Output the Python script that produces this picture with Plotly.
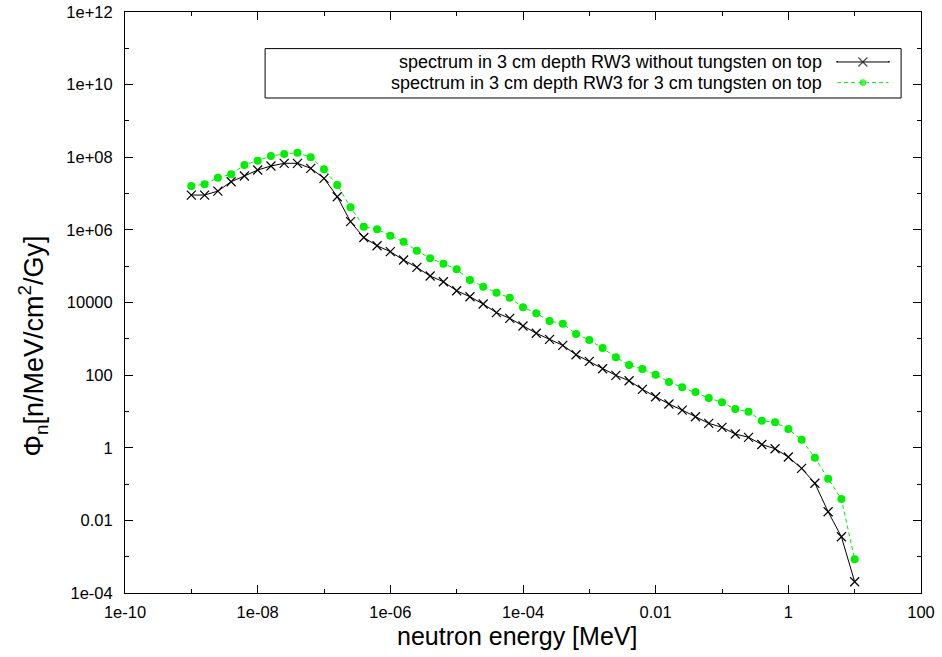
import plotly.graph_objects as go

# ---------------- data ----------------
energy_MeV = [
    1.000e-9, 1.585e-9, 2.512e-9, 3.981e-9, 6.310e-9,
    1.000e-8, 1.585e-8, 2.512e-8, 3.981e-8, 6.310e-8,
    1.000e-7, 1.585e-7, 2.512e-7, 3.981e-7, 6.310e-7,
    1.000e-6, 1.585e-6, 2.512e-6, 3.981e-6, 6.310e-6,
    1.000e-5, 1.585e-5, 2.512e-5, 3.981e-5, 6.310e-5,
    1.000e-4, 1.585e-4, 2.512e-4, 3.981e-4, 6.310e-4,
    1.000e-3, 1.585e-3, 2.512e-3, 3.981e-3, 6.310e-3,
    1.000e-2, 1.585e-2, 2.512e-2, 3.981e-2, 6.310e-2,
    1.000e-1, 1.585e-1, 2.512e-1, 3.981e-1, 6.310e-1,
    1.000e0, 1.585e0, 2.512e0, 3.981e0, 6.310e0,
    1.000e1,
]

phi_without_tungsten = [
    9.1e6, 9.1e6, 1.17e7, 2.12e7, 3.04e7,
    4.45e7, 5.74e7, 6.81e7, 6.81e7, 4.96e7,
    2.63e7, 8.19e6, 1.68e6, 6.16e5, 3.66e5,
    2.51e5, 1.48e5, 9.31e4, 5.36e4, 3.73e4,
    2.11e4, 1.44e4, 9.08e3, 5.24e3, 3.66e3,
    2.25e3, 1.42e3, 968, 662, 365,
    240, 150, 98.6, 70.1, 40.6,
    25.4, 16.0, 10.9, 7.15, 4.71,
    3.65, 2.39, 1.94, 1.23, 0.94,
    0.555, 0.271, 0.105, 0.0173, 0.00354,
    2.04e-4,
]

phi_with_tungsten = [
    1.61e7, 1.80e7, 2.73e7, 3.39e7, 6.11e7,
    8.04e7, 1.08e8, 1.23e8, 1.33e8, 9.96e7,
    4.66e7, 1.72e7, 4.18e6, 1.22e6, 1.04e6,
    6.90e5, 4.72e5, 2.67e5, 1.65e5, 1.17e5,
    8.20e4, 4.16e4, 2.72e4, 1.86e4, 1.35e4,
    7.36e3, 5.04e3, 3.09e3, 2.61e3, 1.36e3,
    927, 557, 309, 190, 147,
    103, 64.6, 46.1, 34.3, 23.4,
    17.8, 11.6, 9.82, 5.55, 5.01,
    3.28, 1.67, 0.527, 0.140, 0.0387,
    8.45e-4,
]

series_names = [
    "spectrum in 3 cm depth RW3 without tungsten on top",
    "spectrum in 3 cm depth RW3 for 3 cm tungsten on top",
]

x_tick_vals = [1e-10, 1e-8, 1e-6, 1e-4, 1e-2, 1, 100]
x_tick_text = ["1e-10", "1e-08", "1e-06", "1e-04", "0.01", "1", "100"]
x_minor_vals = [1e-9, 1e-7, 1e-5, 1e-3, 1e-1, 10]
y_tick_vals = [1e-4, 1e-2, 1, 100, 1e4, 1e6, 1e8, 1e10, 1e12]
y_tick_text = ["1e-04", "0.01", "1", "100", "10000", "1e+06", "1e+08", "1e+10", "1e+12"]
y_minor_vals = [1e-3, 1e-1, 10, 1e3, 1e5, 1e7, 1e9, 1e11]

# ---------------- styling ----------------
FONT = "Liberation Sans, Arial, sans-serif"
BLACK = "#000000"
GREEN = "#00ee00"

fig = go.Figure()

fig.add_trace(go.Scatter(
    x=energy_MeV, y=phi_without_tungsten, mode="lines+markers",
    line=dict(color=BLACK, width=1),
    marker=dict(symbol="x-thin-open", size=9, line=dict(color=BLACK, width=1.2)),
    showlegend=False,
))
fig.add_trace(go.Scatter(
    x=energy_MeV, y=phi_with_tungsten, mode="lines+markers",
    line=dict(color=GREEN, width=1, dash="4px,3px"),
    marker=dict(symbol="circle", size=8, color=GREEN),
    showlegend=False,
))

# ---- hand-made legend (text on the left, sample on the right, like gnuplot) ----
leg_box = dict(x0=0.176, x1=0.975, y0=0.852, y1=0.937)
leg_rows_y = [0.914, 0.8785]
leg_text_right = 0.878
leg_sample = [0.8945, 0.927, 0.9598]

fig.add_shape(type="rect", xref="paper", yref="paper", **leg_box,
              line=dict(color=BLACK, width=1), fillcolor="rgba(0,0,0,0)")
styles = [
    dict(line=dict(color=BLACK, width=1),
         marker=dict(symbol="x-thin-open", size=[1, 9, 1], line=dict(color=BLACK, width=1.2))),
    dict(line=dict(color=GREEN, width=1, dash="4px,3px"),
         marker=dict(symbol="circle", size=[1, 8, 1], color=GREEN)),
]
for name, ry, st in zip(series_names, leg_rows_y, styles):
    fig.add_annotation(text=name, xref="paper", yref="paper", x=leg_text_right, y=ry,
                       xanchor="right", yanchor="middle", showarrow=False,
                       font=dict(family=FONT, size=18, color=BLACK))
    fig.add_trace(go.Scatter(x=leg_sample, y=[ry] * 3, xaxis="x2", yaxis="y2",
                             mode="lines+markers", showlegend=False, hoverinfo="skip",
                             cliponaxis=False, **st))

# ---- axis titles ----
fig.add_annotation(text="neutron energy [MeV]", xref="paper", yref="paper",
                   x=0.492, y=-0.074, xanchor="center", yanchor="middle", showarrow=False,
                   font=dict(family=FONT, size=25, color=BLACK))
fig.add_annotation(text="Φ<sub>n</sub>[n/MeV/cm<sup>2</sup>/Gy]", xref="paper", yref="paper",
                   x=-0.115, y=0.425, xanchor="center", yanchor="middle", showarrow=False,
                   textangle=-90, font=dict(family=FONT, size=27, color=BLACK))

axis_common = dict(showline=True, linecolor=BLACK, linewidth=1, mirror="allticks",
                   ticks="inside", ticklen=8, tickcolor=BLACK, tickwidth=1,
                   showgrid=False, zeroline=False, automargin=False,
                   tickfont=dict(family=FONT, size=16.5, color=BLACK))

fig.update_layout(
    width=942, height=657,
    margin=dict(l=125, r=21, t=12, b=64),
    paper_bgcolor="white", plot_bgcolor="white",
    xaxis=dict(type="log", range=[-10, 2], tickmode="array",
               tickvals=x_tick_vals, ticktext=x_tick_text, ticklabelstandoff=4,
               minor=dict(tickmode="array", tickvals=x_minor_vals, ticks="inside",
                          ticklen=4, tickcolor=BLACK, showgrid=False),
               **axis_common),
    yaxis=dict(type="log", range=[-4, 12], tickmode="array",
               tickvals=y_tick_vals, ticktext=y_tick_text, ticklabelstandoff=8,
               minor=dict(tickmode="array", tickvals=y_minor_vals, ticks="inside",
                          ticklen=4, tickcolor=BLACK, showgrid=False),
               **axis_common),
    xaxis2=dict(overlaying="x", range=[0, 1], visible=False, fixedrange=True),
    yaxis2=dict(overlaying="y", range=[0, 1], visible=False, fixedrange=True),
)

fig.write_html("out.html")
